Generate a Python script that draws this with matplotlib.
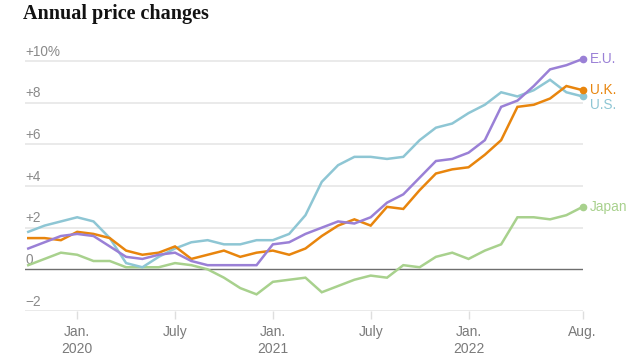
import matplotlib
matplotlib.use('Agg')
from matplotlib import pyplot as plt
from matplotlib import transforms

# months from Oct 2019 to Aug 2022, index 0 = Jan 2020
months = list(range(-3, 32))

eu = [1.0, 1.3, 1.6, 1.7, 1.6, 1.1, 0.6, 0.5, 0.7, 0.8, 0.4, 0.2, 0.2, 0.2, 0.2,
      1.2, 1.3, 1.7, 2.0, 2.3, 2.2, 2.5, 3.2, 3.6, 4.4, 5.2, 5.3,
      5.6, 6.2, 7.8, 8.1, 8.8, 9.6, 9.8, 10.1]
uk = [1.5, 1.5, 1.4, 1.8, 1.7, 1.5, 0.9, 0.7, 0.8, 1.1, 0.5, 0.7, 0.9, 0.6, 0.8,
      0.9, 0.7, 1.0, 1.6, 2.1, 2.4, 2.1, 3.0, 2.9, 3.8, 4.6, 4.8,
      4.9, 5.5, 6.2, 7.8, 7.9, 8.2, 8.8, 8.6]
us = [1.8, 2.1, 2.3, 2.5, 2.3, 1.5, 0.3, 0.1, 0.6, 1.0, 1.3, 1.4, 1.2, 1.2, 1.4,
      1.4, 1.7, 2.6, 4.2, 5.0, 5.4, 5.4, 5.3, 5.4, 6.2, 6.8, 7.0,
      7.5, 7.9, 8.5, 8.3, 8.6, 9.1, 8.5, 8.3]
japan = [0.2, 0.5, 0.8, 0.7, 0.4, 0.4, 0.1, 0.1, 0.1, 0.3, 0.2, 0.0, -0.4, -0.9, -1.2,
         -0.6, -0.5, -0.4, -1.1, -0.8, -0.5, -0.3, -0.4, 0.2, 0.1, 0.6, 0.8,
         0.5, 0.9, 1.2, 2.5, 2.5, 2.4, 2.6, 3.0]

series = [('Japan', japan, '#a8d18d'), ('U.S.', us, '#8ec6d4'),
          ('U.K.', uk, '#e8850d'), ('E.U.', eu, '#9a80d6')]
label_offsets = {'Japan': 0, 'U.S.': -6, 'U.K.': 0, 'E.U.': 0}

y_ticks = [-2, 0, 2, 4, 6, 8, 10]
y_labels = ['\u22122', '0', '+2', '+4', '+6', '+8', '+10%']
x_ticks = [0, 6, 12, 18, 24, 31]
x_labels = ['Jan.\n2020', 'July', 'Jan.\n2021', 'July', 'Jan.\n2022', 'Aug.']

plt.rcParams['font.family'] = ['Liberation Sans', 'DejaVu Sans']

fig = plt.figure(figsize=(6.3, 3.59), dpi=100)
ax = fig.add_axes([25/630, 48/359, 558/630, 270.8/359])
ax.set_xlim(-3.2, 31.02)
ax.set_ylim(-2, 11)

for s in ax.spines.values():
    s.set_visible(False)

trans = transforms.blended_transform_factory(ax.transAxes, ax.transData)
for v, lab in zip(y_ticks, y_labels):
    if v == 0:
        ax.axhline(v, color='#6e6e6e', lw=1, zorder=1)
    else:
        ax.axhline(v, color='#e6e6e6', lw=1.2, zorder=0)
    ax.text(0, v + 0.12, lab, transform=trans, fontsize=9.8, color='#8a8a8a',
            ha='left', va='bottom')
ax.set_yticks([])

ax.set_xticks(x_ticks)
ax.set_xticklabels(x_labels, fontsize=10, color='#7a7a7a', linespacing=1.3)
ax.tick_params(axis='x', length=6, width=1, color='#dedede', pad=4)

for name, vals, col in series:
    ax.plot(months, vals, color=col, lw=1.8, zorder=3, solid_joinstyle='miter')
    ax.plot(months[-1], vals[-1], 'o', color=col, ms=4.5, zorder=4, clip_on=False)
    ax.annotate(name, (months[-1], vals[-1]), xytext=(5, label_offsets[name]),
                textcoords='offset points', fontsize=9.8, color=col,
                ha='left', va='center', annotation_clip=False)

fig.text(23/630, 1 - 4/359, 'Annual price changes', fontsize=14.5,
         fontweight='bold', family='Liberation Serif', color='#121212',
         ha='left', va='top')

fig.savefig('out.png', dpi=100)
